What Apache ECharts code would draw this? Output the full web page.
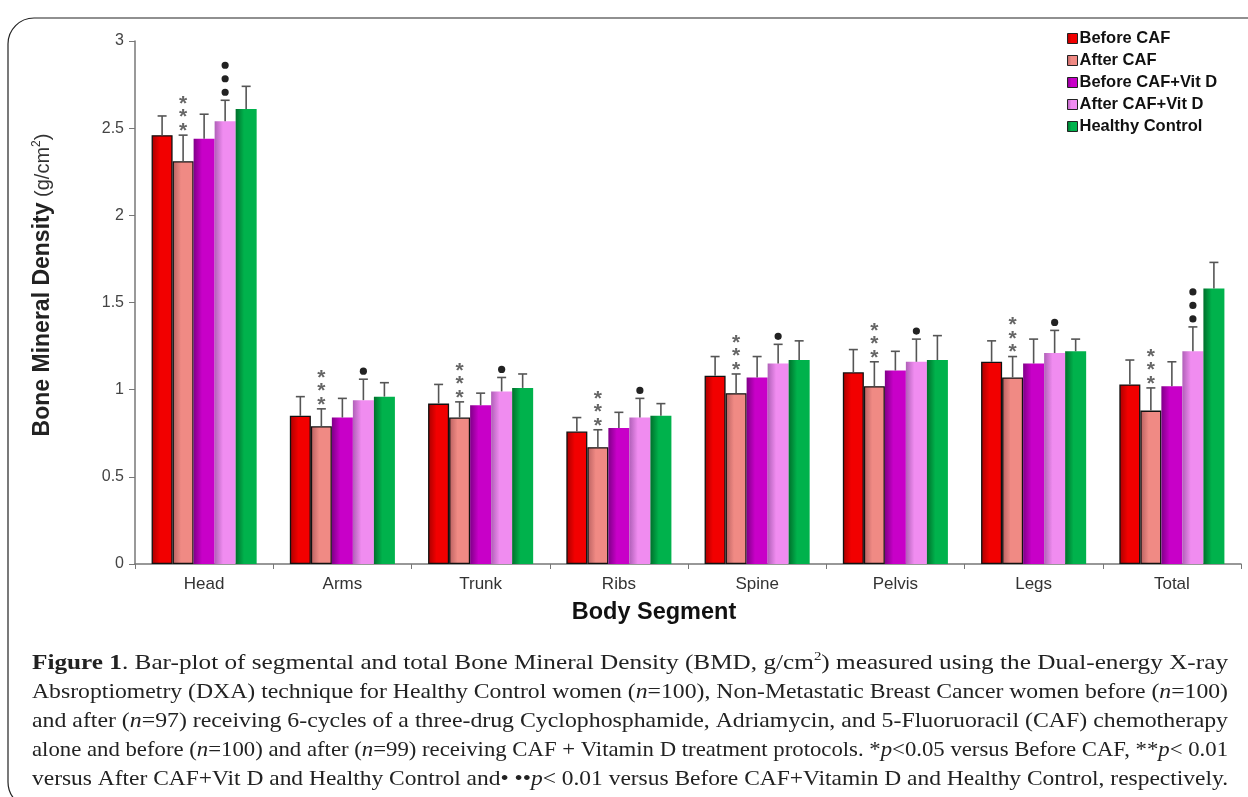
<!DOCTYPE html>
<html>
<head>
<meta charset="utf-8">
<script src="https://cdn.jsdelivr.net/npm/echarts@6/dist/echarts.min.js"></script>
<style>
  html, body { margin: 0; padding: 0; background: #fff; }
  #main { width: 1248px; height: 797px; }
</style>
</head>
<body>
<div id="main"></div>
<script>
var categories = ['Head', 'Arms', 'Trunk', 'Ribs', 'Spine', 'Pelvis', 'Legs', 'Total'];

// bar heights (g/cm2) and top of the error bar
var beforeCAF      = [2.46, 0.85, 0.92, 0.76, 1.08, 1.10, 1.16, 1.03];
var beforeCAFErr   = [2.57, 0.96, 1.03, 0.84, 1.19, 1.23, 1.28, 1.17];
var afterCAF       = [2.31, 0.79, 0.84, 0.67, 0.98, 1.02, 1.07, 0.88];
var afterCAFErr    = [2.46, 0.89, 0.93, 0.77, 1.09, 1.16, 1.19, 1.01];
var beforeVitD     = [2.44, 0.84, 0.91, 0.78, 1.07, 1.11, 1.15, 1.02];
var beforeVitDErr  = [2.58, 0.95, 0.98, 0.87, 1.19, 1.22, 1.29, 1.16];
var afterVitD      = [2.54, 0.94, 0.99, 0.84, 1.15, 1.16, 1.21, 1.22];
var afterVitDErr   = [2.66, 1.06, 1.07, 0.95, 1.26, 1.29, 1.34, 1.36];
var healthy        = [2.61, 0.96, 1.01, 0.85, 1.17, 1.17, 1.22, 1.58];
var healthyErr     = [2.74, 1.04, 1.09, 0.92, 1.28, 1.31, 1.29, 1.73];

// significance marks: stars above "After CAF", dots above "After CAF+Vit D"
var starCount = [3, 3, 3, 3, 3, 3, 3, 3];
var dotCount  = [3, 1, 1, 1, 1, 1, 1, 3];

var yMin = 0, yMax = 3, yStep = 0.5;

var CAT_GAP = 0.24;
var SANS = 'Liberation Sans, Arial, sans-serif';
var SERIF = 'Liberation Serif, Times New Roman, serif';

var groups = [
  { name: 'Before CAF', vals: beforeCAF, errs: beforeCAFErr, dark: '#a80000', light: '#f20000', border: true },
  { name: 'After CAF', vals: afterCAF, errs: afterCAFErr, dark: '#b86060', light: '#f08a84', border: true },
  { name: 'Before CAF+Vit D', vals: beforeVitD, errs: beforeVitDErr, dark: '#800088', light: '#c800c8', border: false },
  { name: 'After CAF+Vit D', vals: afterVitD, errs: afterVitDErr, dark: '#b060b8', light: '#f08cf0', border: false },
  { name: 'Healthy Control', vals: healthy, errs: healthyErr, dark: '#00702c', light: '#00b24c', border: false }
];

function grad(dark, light) {
  return {
    type: 'linear', x: 0, y: 0, x2: 1, y2: 0,
    colorStops: [{ offset: 0, color: dark }, { offset: 0.4, color: light }, { offset: 1, color: light }]
  };
}

function barX(api, ci, k) {
  var p = api.coord([ci, 0]);
  var band = api.size([1, 0])[0];
  var bw = band * (1 - CAT_GAP) / groups.length;
  return p[0] + (k - (groups.length - 1) / 2) * bw;
}

var series = [];
groups.forEach(function (g, k) {
  series.push({
    name: g.name,
    type: 'bar',
    data: g.vals,
    barGap: '0%',
    barCategoryGap: (CAT_GAP * 100) + '%',
    itemStyle: {
      color: grad(g.dark, g.light),
      borderColor: g.border ? '#111' : 'transparent',
      borderWidth: g.border ? 1.3 : 0
    },
    z: 2
  });
});

groups.forEach(function (g, k) {
  var d = g.vals.map(function (v, i) { return [i, g.errs[i], v]; });
  series.push({
    type: 'custom',
    name: g.name + ' err',
    data: d,
    encode: { x: 0, y: [1, 2] },
    z: 3,
    silent: true,
    renderItem: function (params, api) {
      var ci = api.value(0);
      var x = barX(api, ci, k);
      var yt = api.coord([ci, api.value(1)])[1];
      var yb = api.coord([ci, api.value(2)])[1];
      var st = { stroke: '#555', lineWidth: 1.6 };
      return {
        type: 'group',
        children: [
          { type: 'line', shape: { x1: x, y1: yb, x2: x, y2: yt }, style: st },
          { type: 'line', shape: { x1: x - 4.5, y1: yt, x2: x + 4.5, y2: yt }, style: st }
        ]
      };
    }
  });
});

function markSeries(k, counts, kind) {
  var g = groups[k];
  return {
    type: 'custom',
    name: 'marks' + k,
    data: counts.map(function (c, i) { return [i, g.errs[i], c]; }),
    encode: { x: 0, y: 1 },
    z: 4,
    silent: true,
    renderItem: function (params, api) {
      var ci = api.value(0);
      var x = barX(api, ci, k);
      var yt = api.coord([ci, api.value(1)])[1];
      var n = api.value(2);
      var kids = [];
      for (var j = 0; j < n; j++) {
        var cy = yt - 8 - j * 13.5;
        if (kind === 'dot') {
          kids.push({ type: 'circle', shape: { cx: x, cy: cy, r: 3.6 }, style: { fill: '#222' } });
        } else {
          kids.push({
            type: 'text', x: x, y: cy + 4,
            style: { text: '*', fill: '#666', font: 'bold 21px ' + SANS, align: 'center', verticalAlign: 'middle' }
          });
        }
      }
      return { type: 'group', children: kids };
    }
  };
}
series.push(markSeries(1, starCount, 'star'));
series.push(markSeries(3, dotCount, 'dot'));

// caption, one array of [style, text] runs per line
var captionLines = [
  [['b', 'Figure 1'], ['r', '. Bar-plot of segmental and total Bone Mineral Density (BMD, g/cm'], ['s', '2'], ['r', ') measured using the Dual-energy X-ray']],
  [['r', 'Absroptiometry (DXA) technique for Healthy Control women ('], ['i', 'n'], ['r', '=100), Non-Metastatic Breast Cancer women before ('], ['i', 'n'], ['r', '=100)']],
  [['r', 'and after ('], ['i', 'n'], ['r', '=97) receiving 6-cycles of a three-drug Cyclophosphamide, Adriamycin, and 5-Fluoruoracil (CAF) chemotherapy']],
  [['r', 'alone and before ('], ['i', 'n'], ['r', '=100) and after ('], ['i', 'n'], ['r', '=99) receiving CAF + Vitamin D treatment protocols. *'], ['i', 'p'], ['r', '<0.05 versus Before CAF, **'], ['i', 'p'], ['r', '< 0.01']],
  [['r', 'versus After CAF+Vit D and Healthy Control and\u2022 \u2022\u2022'], ['i', 'p'], ['r', '< 0.01 versus Before CAF+Vitamin D and Healthy Control, respectively.']]
];
var capFonts = {
  r: '22px ' + SERIF,
  b: 'bold 22px ' + SERIF,
  i: 'italic 22px ' + SERIF,
  s: '13px ' + SERIF
};
var capRich = {
  r: { font: capFonts.r, fill: '#222', lineHeight: 26 },
  b: { font: capFonts.b, fill: '#222', lineHeight: 26 },
  i: { font: capFonts.i, fill: '#222', lineHeight: 26 },
  s: { font: capFonts.s, fill: '#222', lineHeight: 26, verticalAlign: 'top', padding: [0, 0, 9, 0] }
};
var ctx = document.createElement('canvas').getContext('2d');
var capLeft = 32, capRight = 1228, capTop = 663, capStep = 29;
var graphics = [
  {
    type: 'rect', z: -1, silent: true,
    shape: { x: 8, y: 18, width: 1275, height: 790, r: 26 },
    style: { fill: 'none', stroke: '#222', lineWidth: 1.2 }
  },
  {
    type: 'text', x: 43, y: 285, rotation: Math.PI / 2, silent: true,
    style: {
      text: '{b|Bone Mineral Density}{n| (g/cm}{s|2}{n|)}',
      align: 'center', verticalAlign: 'middle',
      rich: {
        b: { font: 'bold 23px ' + SANS, fill: '#222', lineHeight: 25 },
        n: { font: '20px ' + SANS, fill: '#333', lineHeight: 25 },
        s: { font: '12px ' + SANS, fill: '#333', lineHeight: 25, verticalAlign: 'top', padding: [0, 0, 8, 0] }
      }
    }
  },
  {
    type: 'text', x: 654, y: 613, silent: true,
    style: { text: 'Body Segment', font: 'bold 23.5px ' + SANS, fill: '#111', align: 'center', verticalAlign: 'middle' }
  }
];
captionLines.forEach(function (line, li) {
  var w = 0;
  var str = '';
  line.forEach(function (run) {
    ctx.font = capFonts[run[0]];
    w += ctx.measureText(run[1]).width;
    str += '{' + run[0] + '|' + run[1] + '}';
  });
  graphics.push({
    type: 'text', x: capLeft, y: capTop + li * capStep, silent: true,
    scaleX: (capRight - capLeft) / w,
    style: { text: str, rich: capRich, align: 'left', verticalAlign: 'middle' }
  });
});

var chart = echarts.init(document.getElementById('main'), null, { renderer: 'canvas' });
chart.setOption({
  animation: false,
  backgroundColor: '#fff',
  grid: { left: 135, right: 7, top: 41, bottom: 233, containLabel: false },
  legend: {
    data: groups.map(function (g) { return g.name; }),
    orient: 'vertical',
    left: 1062,
    top: 25,
    icon: 'rect',
    itemWidth: 10,
    itemHeight: 10,
    itemGap: 5,
    itemStyle: { borderColor: '#222', borderWidth: 1 },
    textStyle: { fontWeight: 'bold', fontSize: 16.5, fontFamily: SANS, color: '#111', lineHeight: 17, padding: [0, 0, 0, -3] }
  },
  xAxis: {
    type: 'category',
    data: categories,
    axisLine: { lineStyle: { color: '#777', width: 1.5 } },
    axisTick: { show: true, length: 5, lineStyle: { color: '#777' } },
    axisLabel: { color: '#333', fontSize: 17, fontFamily: SANS, margin: 12 }
  },
  yAxis: {
    type: 'value',
    min: yMin, max: yMax, interval: yStep,
    splitLine: { show: false },
    axisLine: { show: true, lineStyle: { color: '#777', width: 1.5 } },
    axisTick: { show: true, length: 6, lineStyle: { color: '#777' } },
    axisLabel: { color: '#444', fontSize: 16, fontFamily: SANS, margin: 11 }
  },
  graphic: graphics,
  series: series
});
</script>
</body>
</html>
